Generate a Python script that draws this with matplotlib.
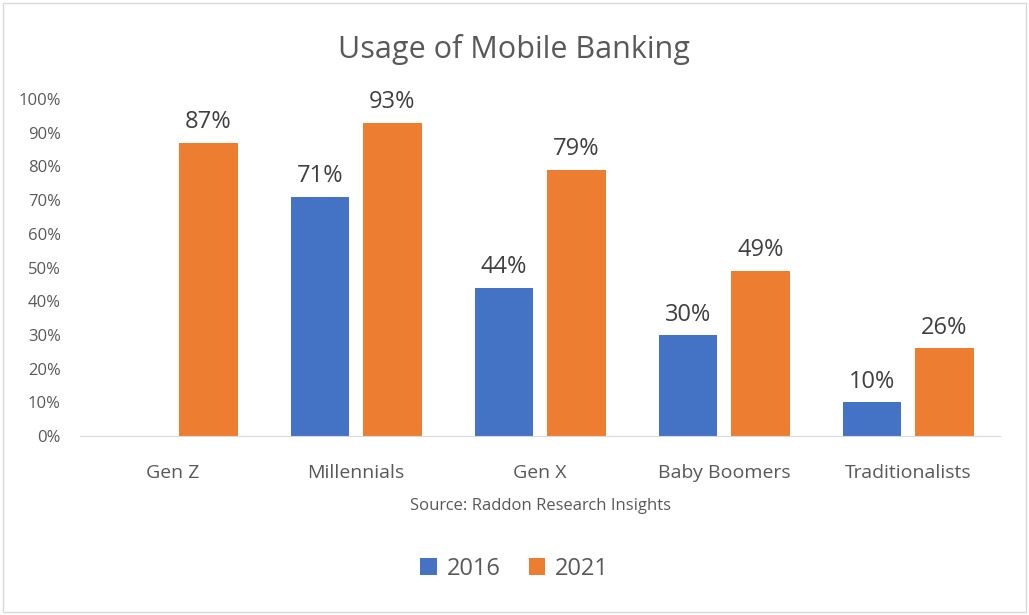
import numpy as np
from matplotlib import pyplot as plt
from matplotlib.patches import Rectangle

plt.rcParams['font.family'] = 'Open Sans'

categories = ['Gen Z', 'Millennials', 'Gen X', 'Baby Boomers', 'Traditionalists']
usage_2016 = [np.nan, 71, 44, 30, 10]
usage_2021 = [87, 93, 79, 49, 26]
series_names = ['2016', '2021']
colors = ['#4472C4', '#ED7D31']
text_col = '#595959'

fig = plt.figure(figsize=(10.29, 6.15), dpi=100)
ax = fig.add_axes([0.078, 0.291, 0.894, 0.548])

x = np.arange(len(categories))
w = 0.317
off = 0.197
for vals, sign, col, name in zip([usage_2016, usage_2021], [-1, 1], colors, series_names):
    bars = ax.bar(x + sign * off, vals, w, color=col, label=name)
    for xi, v in zip(x, vals):
        if not np.isnan(v):
            ax.text(xi + sign * off, v + 2.5, f'{v:.0f}%', ha='center', va='bottom',
                    fontsize=17, color='#404040')

ax.set_xlim(-0.5, len(categories) - 0.5)
ax.set_ylim(0, 100)
ax.set_yticks(range(0, 101, 10))
ax.set_yticklabels([f'{t}%' for t in range(0, 101, 10)])
ax.set_xticks(x)
ax.set_xticklabels(categories)
ax.tick_params(axis='y', length=0, labelsize=12, colors=text_col, pad=14)
ax.tick_params(axis='x', length=0, labelsize=14, colors=text_col, pad=20)
for s in ['top', 'right', 'left']:
    ax.spines[s].set_visible(False)
ax.spines['bottom'].set_color('#D9D9D9')

fig.text(0.5, 0.92, 'Usage of Mobile Banking', ha='center', va='center',
         fontsize=22, color=text_col)
fig.text(0.525, 0.178, 'Source: Raddon Research Insights', ha='center', va='center',
         fontsize=12, color=text_col)
fig.legend(loc='center', bbox_to_anchor=(0.5, 0.075), ncol=2, frameon=False,
           fontsize=17, labelcolor=text_col, handlelength=0.7, handleheight=0.7,
           columnspacing=1.2, handletextpad=0.4)
fig.patches.append(Rectangle((0.003, 0.005), 0.994, 0.99, transform=fig.transFigure,
                             fill=False, edgecolor='#D9D9D9', lw=1))

plt.savefig('out.png', dpi=100)
